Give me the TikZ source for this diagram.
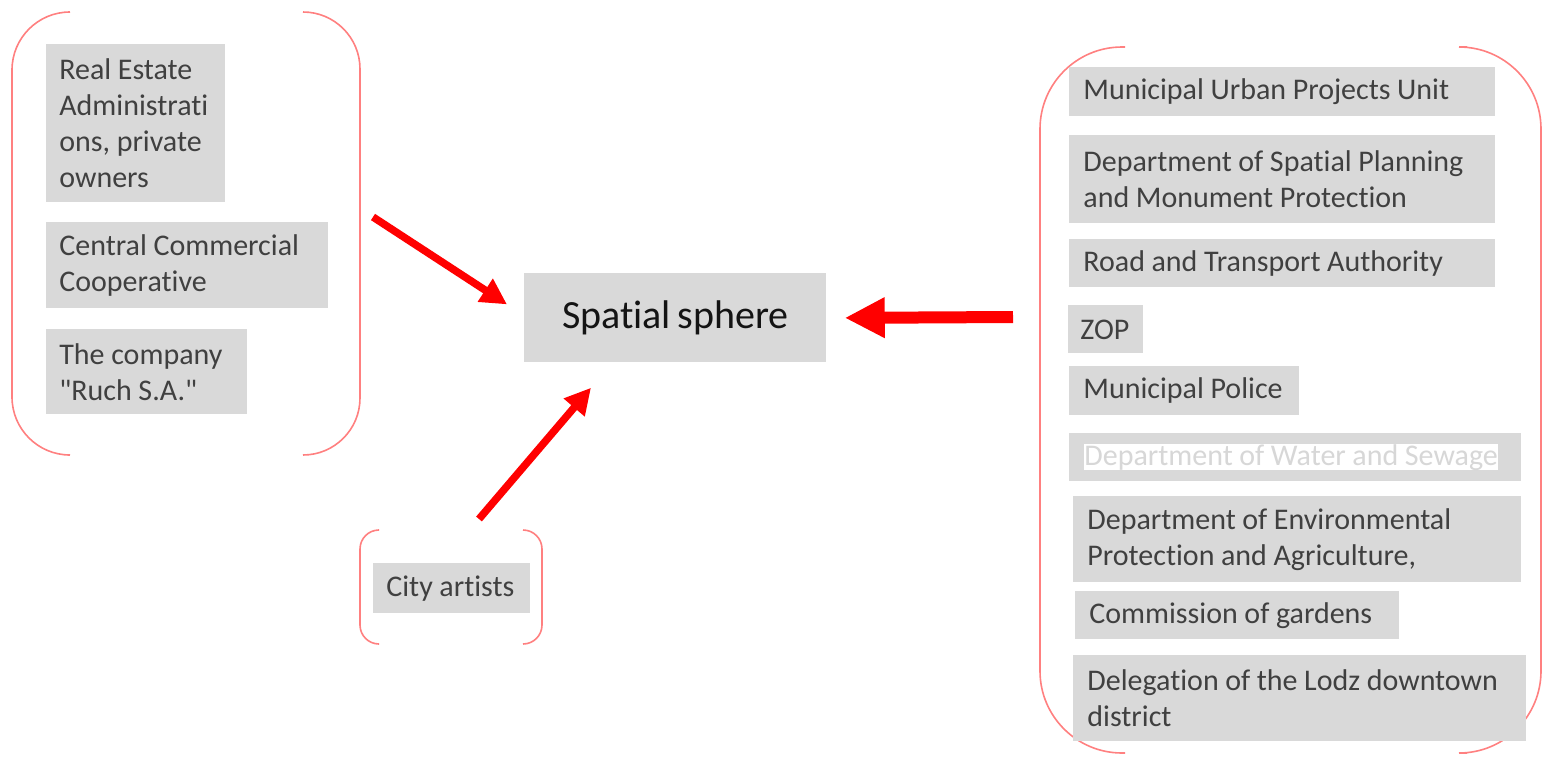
\documentclass[tikz,border=0pt]{standalone}
\usepackage{fontspec}
\setmainfont{Carlito}[Ligatures={TeXOff,NoCommon}]
\usetikzlibrary{arrows.meta}

\definecolor{boxgray}{RGB}{217,217,217}
\definecolor{txtgray}{RGB}{64,64,64}
\definecolor{brackred}{RGB}{255,128,128}
\definecolor{arrred}{RGB}{255,0,0}
\definecolor{fadetxt}{RGB}{215,215,215}

\tikzset{every picture/.style={line width=0.75pt}}
\tikzset{
  actor/.style={fill=boxgray, text=txtgray, anchor=north west, inner xsep=10pt, inner ysep=0pt,
    align=left, font=\fontsize{30}{36}\selectfont,
    execute at begin node={\hyphenpenalty=10000\relax\spaceskip=6.6pt\relax}},
  bracket/.style={draw=brackred, line width=1.6pt, rounded corners=#1},
  redarrow/.style={draw=arrred, line width=7.5pt, -{Triangle[length=26pt,width=26pt]}},
  bigarrow/.style={draw=arrred, line width=12pt, -{Triangle[length=40pt,width=38pt]}},
}

\begin{document}
\begin{tikzpicture}[x=1pt,y=1pt,yscale=-1,xscale=1]
\path[fill=white] (0,0) rectangle (1543,756);
\useasboundingbox (0,0) rectangle (1543,756);

%Shape: Brackets left group
\draw[bracket=58pt] (70,12) -- (12,12) -- (12,455) -- (70,455);
\draw[bracket=57pt] (303,12) -- (360,12) -- (360,455) -- (303,455);
%Shape: Brackets city artists
\draw[bracket=19pt] (378,530) -- (360,530) -- (360,644) -- (378,644);
\draw[bracket=19pt] (523,530) -- (542,530) -- (542,644) -- (523,644);
%Shape: Brackets right group
\draw[bracket=82pt] (1125,47) -- (1040,47) -- (1040,753) -- (1125,753);
\draw[bracket=82pt] (1467,47) -- (1541,47) -- (1541,753) -- (1467,753);

% Text Node
\node[actor, inner xsep=13pt, text width=153pt, minimum height=158pt] (realest) at (46,44) {Real Estate\\Administrati\\ons, private\\owners};
% Text Node
\node[actor, inner xsep=13pt, text width=256pt, minimum height=86pt] (central) at (46,222) {Central Commercial\\Cooperative};
% Text Node
\node[actor, inner xsep=13pt, text width=175pt, minimum height=85pt] (ruch) at (46,329) {The company\\"Ruch S.A."};
% Text Node
\node[actor, text width=282pt, minimum height=89pt, align=center, text={rgb,255:red,20;green,20;blue,20},
  font=\fontsize{40}{48}\selectfont] (sphere) at (524,273) {Spatial sphere};
% Text Node
\node[actor, text width=137pt, minimum height=50pt] (artists) at (373,563) {\hspace{3pt}City artists};

% Text Node
\node[actor, text width=406pt, minimum height=49pt] (urban) at (1069,67) {\hspace{4pt}Municipal Urban Projects Unit};
% Text Node
\node[actor, inner xsep=14pt, text width=398pt, minimum height=88pt] (planning) at (1069,135) {Department of Spatial Planning\\and Monument Protection};
% Text Node
\node[actor, text width=406pt, minimum height=48pt] (road) at (1069,239) {\hspace{4pt}Road and Transport Authority};
% Text Node
\node[actor, text width=55pt, minimum height=48pt] (zop) at (1068,305) {\hspace{2pt}ZOP};
% Text Node
\node[actor, text width=210pt, minimum height=49pt] (police) at (1069,366) {\hspace{4pt}Municipal Police};
% Text Node
\node[actor, text width=432pt, minimum height=48pt, text=fadetxt] (water) at (1069,433)
  {\hspace{5pt}\setlength{\fboxsep}{0pt}\colorbox{white}{Department of Water and Sewage}};
% Text Node
\node[actor, inner xsep=14pt, text width=420pt, minimum height=86pt] (envir) at (1073,496) {Department of Environmental\\Protection and Agriculture,};
% Text Node
\node[actor, text width=304pt, minimum height=48pt] (gardens) at (1075,591) {\hspace{4pt}Commission of gardens};
% Text Node
\node[actor, inner xsep=14pt, text width=425pt, minimum height=86pt] (deleg) at (1073,655) {Delegation of the Lodz downtown\\district};

%Straight Lines
\coordinate (ltail) at (373,217);
\coordinate (btail) at (479,519);
\coordinate (rtail) at (1013,317);
\draw[redarrow] (ltail) -- ([xshift=-17pt,yshift=-13.5pt]sphere.west);
\draw[redarrow] (btail) -- ([xshift=67pt,yshift=25pt]sphere.south west);
\draw[bigarrow] (rtail) -- ([xshift=18pt]sphere.east);

\end{tikzpicture}
\end{document}
